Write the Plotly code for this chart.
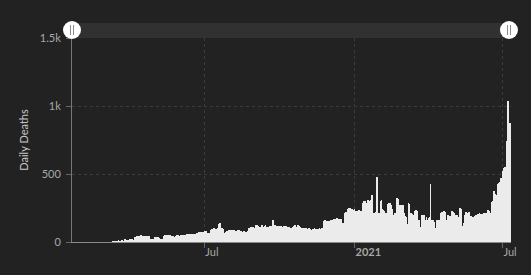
import pandas as pd
import plotly.graph_objects as go

# ---- data: daily deaths, one list per month (first day given by the key date) ----
d2020_01 = [0, 0, 0, 0, 0, 0, 0, 0, 0, 0]  # from Jan 22
d2020_02 = [0, 0, 0, 0, 0, 0, 0, 0, 0, 0, 0, 0, 0, 0, 0, 0, 0, 0, 0, 0, 0, 0, 0, 0, 0, 0, 0, 0, 0]
d2020_03 = [0, 0, 0, 0, 0, 0, 0, 0, 0, 0, 1, 0, 3, 1, 0, 1, 0, 12, 6, 7, 6, 16, 1, 6, 3, 20, 9, 15, 12, 8, 14]
d2020_04 = [21, 13, 24, 11, 10, 7, 35, 19, 40, 46, 26, 46, 40, 50, 35, 37, 42, 35, 47, 38, 43, 45, 32, 42, 27, 20, 25, 19, 21, 24]
d2020_05 = [30, 35, 40, 32, 38, 30, 28, 25, 22, 25, 20, 26, 45, 50, 55, 48, 52, 45, 51, 55, 46, 40, 38, 42, 40, 35, 44, 48, 40, 55, 45]
d2020_06 = [42, 50, 53, 45, 48, 40, 52, 55, 50, 58, 52, 60, 55, 50, 58, 60, 56, 52, 60, 55, 62, 68, 60, 72, 65, 70, 62, 75, 66, 70]
d2020_07 = [75, 81, 80, 64, 62, 66, 60, 68, 88, 92, 95, 88, 100, 85, 96, 90, 92, 100, 130, 137, 100, 98, 102, 95, 64, 62, 66, 74, 82, 78, 85]
d2020_08 = [88, 80, 76, 85, 88, 90, 80, 75, 82, 78, 88, 90, 79, 84, 80, 76, 72, 75, 78, 73, 76, 70, 78, 100, 95, 105, 110, 100, 104, 108, 100]
d2020_09 = [105, 125, 120, 124, 118, 108, 112, 105, 114, 122, 110, 107, 118, 124, 106, 114, 110, 109, 120, 112, 115, 118, 160, 128, 115, 124, 117, 113, 120, 112]
d2020_10 = [116, 110, 118, 112, 108, 118, 121, 110, 115, 108, 114, 112, 110, 104, 100, 98, 100, 112, 118, 123, 108, 114, 112, 125, 118, 110, 102, 100, 95, 104, 98]
d2020_11 = [100, 98, 102, 97, 95, 100, 92, 83, 85, 88, 95, 98, 100, 96, 93, 90, 95, 99, 100, 93, 98, 100, 96, 130, 155, 160, 158, 150, 155, 152]
d2020_12 = [155, 150, 160, 158, 162, 165, 170, 172, 168, 175, 165, 170, 160, 172, 168, 155, 140, 137, 140, 215, 221, 223, 215, 245, 252, 248, 240, 235, 245, 238, 235]
d2021_01 = [240, 230, 205, 225, 200, 235, 220, 230, 215, 225, 290, 285, 300, 305, 290, 280, 310, 300, 295, 305, 310, 345, 340, 215, 205, 210, 220, 476, 230, 215, 210]
d2021_02 = [215, 305, 310, 240, 235, 230, 215, 210, 205, 215, 280, 285, 290, 275, 270, 240, 200, 190, 210, 195, 205, 320, 315, 270, 275, 268, 272, 265]
d2021_03 = [270, 210, 205, 190, 186, 125, 130, 284, 280, 215, 210, 205, 113, 120, 200, 230, 235, 225, 230, 162, 160, 113, 110, 120, 198, 195, 200, 160, 100, 186, 150]
d2021_04 = [160, 175, 185, 426, 165, 160, 162, 150, 100, 105, 98, 160, 150, 162, 158, 165, 210, 223, 190, 225, 220, 223, 160, 150, 195, 200, 175, 190, 165, 225]
d2021_05 = [223, 180, 215, 200, 162, 195, 200, 170, 185, 247, 240, 113, 115, 120, 140, 200, 223, 186, 210, 195, 220, 137, 140, 190, 185, 186, 180, 190, 186, 195, 200]
d2021_06 = [205, 198, 211, 205, 200, 208, 198, 211, 205, 210, 200, 215, 235, 235, 230, 198, 210, 296, 300, 370, 377, 355, 338, 345, 400, 426, 431, 443, 468, 470]
d2021_07 = [505, 520, 541, 550, 554, 730, 740, 1040, 872, 872]

month_starts = ["2020-01-22", "2020-02-01", "2020-03-01", "2020-04-01", "2020-05-01",
                "2020-06-01", "2020-07-01", "2020-08-01", "2020-09-01", "2020-10-01",
                "2020-11-01", "2020-12-01", "2021-01-01", "2021-02-01", "2021-03-01",
                "2021-04-01", "2021-05-01", "2021-06-01", "2021-07-01"]
month_values = [d2020_01, d2020_02, d2020_03, d2020_04, d2020_05, d2020_06, d2020_07,
                d2020_08, d2020_09, d2020_10, d2020_11, d2020_12, d2021_01, d2021_02,
                d2021_03, d2021_04, d2021_05, d2021_06, d2021_07]

x_tick_vals = ["2020-07-01", "2021-01-01", "2021-07-01"]
x_tick_text = ["Jul", "<b>2021</b>", "Jul"]
y_tick_vals = [0, 500, 1000, 1500]
y_tick_text = ["0", "500", "1k", "1.5k"]

dates, deaths = [], []
for start, vals in zip(month_starts, month_values):
    dates.extend(pd.date_range(start, periods=len(vals), freq="D"))
    deaths.extend(vals)

BG = "#222222"
GRID = "#3c3c3c"
FONT = "Lato"

fig = go.Figure(go.Bar(x=dates, y=deaths, marker=dict(color="#ebebeb", line=dict(width=0)),
                       hoverinfo="skip"))

handle_shapes = []
# range-selector band above the plot
handle_shapes.append(dict(type="rect", xref="paper", x0=0, x1=0.9954, yref="paper",
                          ysizemode="pixel", yanchor=1, y0=0, y1=15,
                          fillcolor="#313131", line=dict(width=0), layer="above"))
for xa in [0, 0.9954]:
    handle_shapes.append(dict(type="circle", xref="paper", xsizemode="pixel", xanchor=xa,
                              x0=-9, x1=9, yref="paper", ysizemode="pixel", yanchor=1,
                              y0=-1, y1=17, fillcolor="#ffffff", line=dict(width=0)))
    for dx in (-1.5, 1.5):
        handle_shapes.append(dict(type="line", xref="paper", xsizemode="pixel", xanchor=xa,
                                  x0=dx, x1=dx, yref="paper", ysizemode="pixel", yanchor=1,
                                  y0=3, y1=13, line=dict(color="#8a8a8a", width=1)))

fig.update_layout(
    width=531, height=275,
    margin=dict(l=72, r=20, t=38, b=33),
    paper_bgcolor=BG, plot_bgcolor=BG,
    bargap=0, showlegend=False,
    font=dict(family=FONT, color="#aaaaaa", size=11),
    shapes=handle_shapes,
    xaxis=dict(type="date", range=["2020-01-21", "2021-07-11 12:00"],
               tickvals=x_tick_vals, ticktext=x_tick_text,
               ticks="outside", ticklen=5, tickcolor="#666666",
               ticklabelposition="outside right",
               tickfont=dict(color="#a8a8a8", size=11),
               showgrid=True, gridcolor=GRID, griddash="3px,3px", gridwidth=1,
               showline=True, linecolor="#8a8a8a", linewidth=1, zeroline=False),
    yaxis=dict(range=[0, 1500], tickvals=y_tick_vals, ticktext=y_tick_text,
               ticks="outside", ticklen=5, tickcolor="#666666",
               ticklabelstandoff=3,
               tickfont=dict(color="#a8a8a8", size=11),
               showgrid=True, gridcolor=GRID, griddash="3px,3px", gridwidth=1,
               showline=True, linecolor="#777777", linewidth=1, zeroline=False,
               title=dict(text="Daily Deaths", font=dict(color="#c8c8c8", size=11), standoff=8)),
)

fig.write_html("out.html")
